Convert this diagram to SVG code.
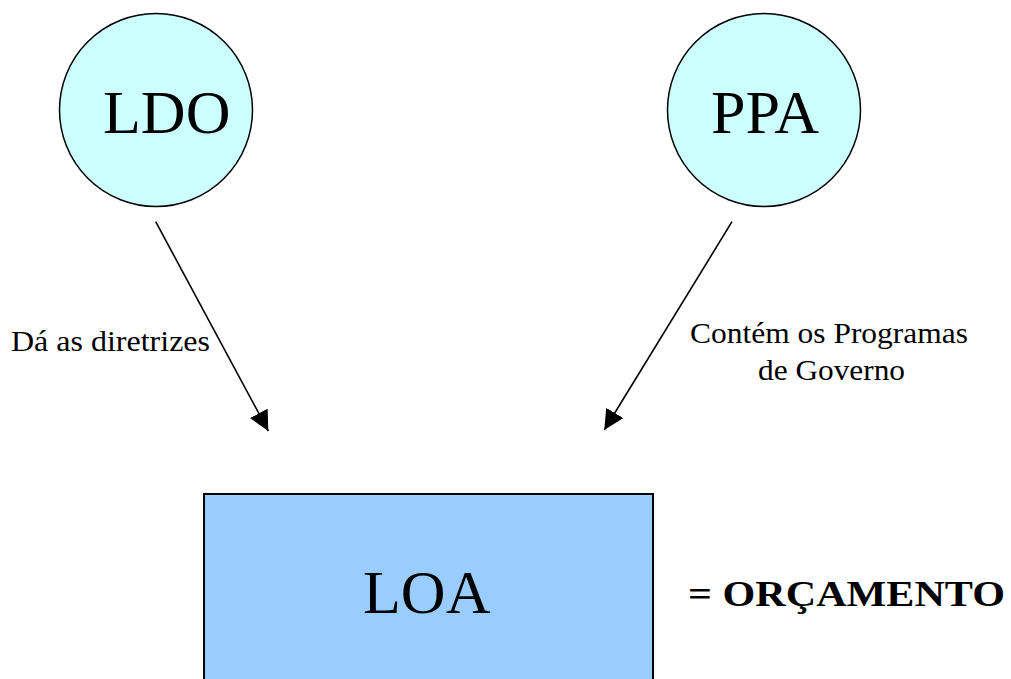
<svg xmlns="http://www.w3.org/2000/svg" width="1011" height="679" viewBox="0 0 1011 679">
<style>
.circ{fill:#CCFFFF;stroke:#000;stroke-width:1.5}
.box{fill:#99CCFF;stroke:#000;stroke-width:2}
.big{font-family:"Liberation Serif","Times New Roman",Times,serif;font-size:62px;fill:#000}
.lbl{font-family:"Liberation Serif","Times New Roman",Times,serif;font-size:30px;fill:#000}
.bold{font-family:"Liberation Serif","Times New Roman",Times,serif;font-size:36px;font-weight:bold;fill:#000}
.edge{stroke:#000;stroke-width:1.6;fill:none}
</style>
<defs>
<marker id="arrow" markerUnits="userSpaceOnUse" markerWidth="22" markerHeight="22" refX="20" refY="10" orient="auto">
<path d="M0,0 L20,10 L0,20 z" fill="#000"/>
</marker>
</defs>
<rect width="1011" height="679" fill="#fff"/>
<g id="LDO">
<circle class="circ" cx="156" cy="110" r="96.5"/>
<text class="big" x="103" y="133">LDO</text>
</g>
<g id="PPA">
<circle class="circ" cx="764" cy="110" r="96.5"/>
<text class="big" x="711" y="133">PPA</text>
</g>
<g id="LOA">
<rect class="box" x="204" y="494" width="449" height="200"/>
<text class="big" x="363" y="613">LOA</text>
</g>
<g id="ORCAMENTO">
<text class="bold" x="688" y="606" textLength="317" lengthAdjust="spacingAndGlyphs">= ORÇAMENTO</text>
</g>
<g id="connectors">
<line class="edge" x1="155.7" y1="221.7" x2="268.3" y2="431" marker-end="url(#arrow)"/>
<line class="edge" x1="732" y1="221.7" x2="604.3" y2="430" marker-end="url(#arrow)"/>
<text class="lbl" x="11" y="351" textLength="199" lengthAdjust="spacingAndGlyphs">Dá as diretrizes</text>
<text class="lbl" x="829" y="343" text-anchor="middle" textLength="278" lengthAdjust="spacingAndGlyphs">Contém os Programas</text>
<text class="lbl" x="831.5" y="380" text-anchor="middle" textLength="147" lengthAdjust="spacingAndGlyphs">de Governo</text>
</g>
</svg>
